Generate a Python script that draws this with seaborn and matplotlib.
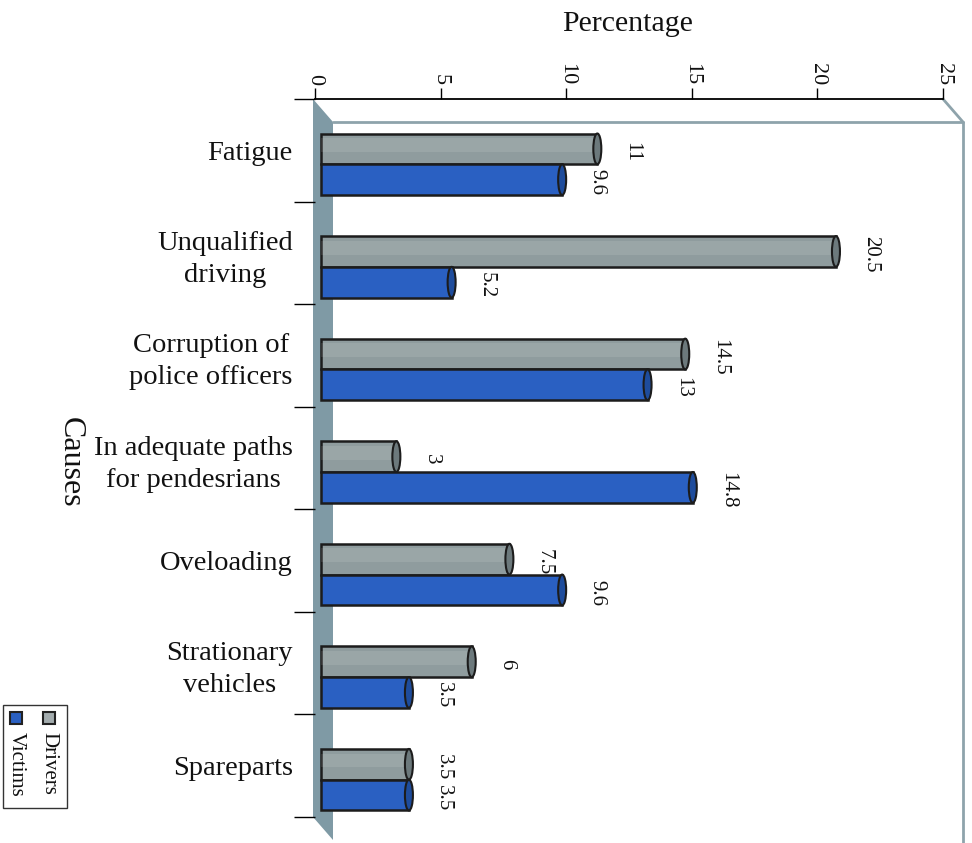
import numpy as np
import pandas as pd
import matplotlib
matplotlib.use("Agg")
import matplotlib.pyplot as plt
import matplotlib.transforms as mtransforms
from matplotlib.patches import Polygon, Ellipse, Rectangle
from matplotlib.lines import Line2D
import seaborn as sns

# ---- data -------------------------------------------------------------
causes = ["Fatigue", "Unqualified\ndriving", "Corruption of\npolice officers",
          "In adequate paths\nfor pendesrians", "Oveloading",
          "Strationary\nvehicles", "Spareparts"]
drivers = [11, 20.5, 14.5, 3, 7.5, 6, 3.5]
victims = [9.6, 5.2, 13, 14.8, 9.6, 3.5, 3.5]
series = ["Drivers", "Victims"]
x_ticks = [0, 5, 10, 15, 20, 25]

df = pd.DataFrame({
    "Cause": causes * 2,
    "Percentage": drivers + victims,
    "Group": [series[0]] * len(causes) + [series[1]] * len(causes),
})

sns.set_theme(style="white")
plt.rcParams["font.family"] = ["Liberation Serif", "DejaVu Serif"]

W, H = 972, 843
fig = plt.figure(figsize=(W / 100, H / 100), dpi=100)
fig.patch.set_facecolor("white")


def fx(px):
    return px / W


def fy(py):
    return 1 - py / H


# front plane of the plot box (pixels)
L, R, T, B = 315, 943, 99, 817
DX, DY = 20, 23  # depth of the pseudo-3D box

ax = fig.add_axes([fx(L), fy(B), fx(R) - fx(L), fy(T) - fy(B)])
ax.set_facecolor("none")

GRAY, BLUE = "#8f9c9e", "#2a60c2"
CAP = {GRAY: "#6c797c", BLUE: "#1e4c9c"}
EDGE = "#1c1c1c"

sns.barplot(data=df, y="Cause", x="Percentage", hue="Group", orient="h",
            palette=[GRAY, BLUE], width=0.6, edgecolor=EDGE, linewidth=1.8,
            saturation=1, legend=False, ax=ax, zorder=3)
bars = list(ax.patches)

ax.set_xlim(0, 25)
ax.set_ylim(len(causes) - 0.5, -0.5)

# bars sit halfway into the box depth
shift = mtransforms.ScaledTranslation(6 / 100, -14 / 100, fig.dpi_scale_trans)
btrans = ax.transData + shift
px_per_unit = (R - L) / 25.0

for p in bars:
    p.set_transform(btrans)
    x1 = p.get_x() + p.get_width()
    y0, h = p.get_y(), p.get_height()
    fc = matplotlib.colors.to_hex(p.get_facecolor())
    if fc == GRAY:
        ax.add_patch(Rectangle((0, y0 + 0.15 * h), p.get_width(), 0.45 * h,
                               transform=btrans, fc="white", alpha=0.1,
                               ec="none", zorder=3.2))
    ax.add_patch(Ellipse((x1, y0 + h / 2), width=8 / px_per_unit, height=h,
                         transform=btrans, fc=CAP.get(fc, fc), ec=EDGE,
                         lw=1.5, zorder=3.5))
    ax.annotate(f"{p.get_width():g}", xy=(x1, y0 + h / 2), xycoords=btrans,
                xytext=(25, -2), textcoords="offset points",
                rotation=270, ha="center", va="center", fontsize=15,
                color="#111111")

# axes styling
ax.xaxis.tick_top()
ax.set_xticks(x_ticks)
ax.set_xticklabels([str(t) for t in x_ticks], rotation=270, fontsize=16)
ax.tick_params(axis="x", top=True, bottom=False, length=8, width=1,
               color="black", pad=2, labelcolor="#111111")
ax.set_yticks(range(len(causes)))
ax.set_yticklabels(causes, fontsize=20.5, multialignment="center",
                   linespacing=1.35, color="#111111")
ax.tick_params(axis="y", which="major", length=0, pad=16)
ax.set_yticks(np.arange(-0.5, len(causes), 1), minor=True)
ax.tick_params(axis="y", which="minor", left=True, length=15, width=1,
               color="black")
ax.set_xlabel("")
ax.set_ylabel("")
for side in ["left", "right", "bottom"]:
    ax.spines[side].set_visible(False)
ax.spines["top"].set_color("black")
ax.spines["top"].set_linewidth(1.3)

# side wall and back frame of the box
wall = Polygon([(fx(L - 2), fy(T)), (fx(L - 2 + DX), fy(T + DY)),
                (fx(L - 2 + DX), fy(B + DY)), (fx(L - 2), fy(B))],
               closed=True, transform=fig.transFigure, fc="#7f9aa5",
               ec="none", zorder=-1)
fig.add_artist(wall)
frame_kw = dict(transform=fig.transFigure, color="#8ea3ab", lw=2, zorder=-1)
fig.add_artist(Line2D([fx(L - 2 + DX), fx(R + DX)], [fy(T + DY), fy(T + DY)], **frame_kw))
fig.add_artist(Line2D([fx(R), fx(R + DX)], [fy(T), fy(T + DY)], **frame_kw))
fig.add_artist(Line2D([fx(R + DX), fx(R + DX)], [fy(T + DY), fy(H)], **frame_kw))

# axis titles
fig.text(fx(628), fy(24), "Percentage", ha="center", va="center",
         fontsize=21.5, color="#111111")
fig.text(fx(70), fy(462), "Causes", ha="center", va="center",
         rotation=270, fontsize=23, color="#111111")

# legend (rotated like the rest of the chart)
fig.add_artist(Rectangle((fx(3), fy(808)), fx(67) - fx(3), fy(705) - fy(808),
                         transform=fig.transFigure, fc="white",
                         ec="#333333", lw=1))
for name, color, xc in [(series[0], "#a3acae", 49), (series[1], BLUE, 16)]:
    fig.add_artist(Rectangle((fx(xc - 6), fy(724)), fx(12), fy(712) - fy(724),
                             transform=fig.transFigure, fc=color,
                             ec="#222222", lw=1.5))
    fig.text(fx(xc), fy(732), name, rotation=270, ha="center", va="top",
             fontsize=15, color="#111111")

fig.savefig("out.png", dpi=100)
